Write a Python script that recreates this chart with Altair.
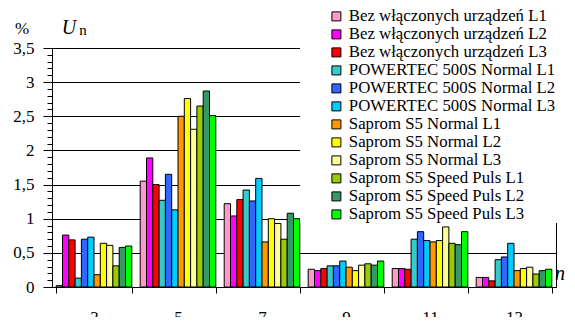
import altair as alt
import pandas as pd

harmonics = ["3", "5", "7", "9", "11", "13"]

series_names = [
    "Bez włączonych urządzeń L1",
    "Bez włączonych urządzeń L2",
    "Bez włączonych urządzeń L3",
    "POWERTEC 500S Normal L1",
    "POWERTEC 500S Normal L2",
    "POWERTEC 500S Normal L3",
    "Saprom S5 Normal L1",
    "Saprom S5 Normal L2",
    "Saprom S5 Normal L3",
    "Saprom S5 Speed Puls L1",
    "Saprom S5 Speed Puls L2",
    "Saprom S5 Speed Puls L3",
]

series_colors = [
    "#FF99CC", "#FF00FF", "#FF0000",
    "#33CCCC", "#3366FF", "#00CCFF",
    "#FF9900", "#FFFF00", "#FFFF99",
    "#99CC00", "#339966", "#00FF00",
]

bez_l1 = [0.02, 1.55, 1.22, 0.26, 0.27, 0.14]
bez_l2 = [0.76, 1.89, 1.04, 0.24, 0.27, 0.14]
bez_l3 = [0.69, 1.50, 1.28, 0.27, 0.26, 0.09]
pow_l1 = [0.13, 1.27, 1.42, 0.31, 0.70, 0.40]
pow_l2 = [0.70, 1.65, 1.26, 0.31, 0.81, 0.44]
pow_l3 = [0.73, 1.13, 1.59, 0.38, 0.68, 0.64]
sn_l1 = [0.18, 2.50, 0.66, 0.29, 0.66, 0.24]
sn_l2 = [0.64, 2.76, 1.00, 0.24, 0.68, 0.27]
sn_l3 = [0.61, 2.31, 0.93, 0.32, 0.88, 0.29]
sp_l1 = [0.31, 2.65, 0.70, 0.34, 0.64, 0.19]
sp_l2 = [0.58, 2.87, 1.08, 0.32, 0.62, 0.24]
sp_l3 = [0.60, 2.51, 1.00, 0.38, 0.81, 0.26]

series_values = [bez_l1, bez_l2, bez_l3, pow_l1, pow_l2, pow_l3,
                 sn_l1, sn_l2, sn_l3, sp_l1, sp_l2, sp_l3]

y_ticks = [round(i * 0.1, 1) for i in range(36)]

rows = []
for name, vals in zip(series_names, series_values):
    for h, v in zip(harmonics, vals):
        rows.append({"n": h, "series": name, "value": v})
df = pd.DataFrame(rows)

FONT = "'Liberation Serif', 'Times New Roman', 'DejaVu Serif', serif"
major = "round(datum.value * 10) % 5 == 0"

bars = alt.Chart(df).mark_bar(stroke="black", strokeWidth=1).encode(
    x=alt.X(
        "n:N", sort=harmonics,
        scale=alt.Scale(paddingInner=0.1, paddingOuter=0.05),
        axis=alt.Axis(title=None, labelAngle=0, tickBand="extent", tickSize=6,
                      tickColor="black", domainColor="black", labelFont=FONT,
                      labelFontSize=17, labelColor="black", labelPadding=16,
                      labelBaseline="top", grid=False),
    ),
    xOffset=alt.XOffset("series:N", sort=series_names,
                        scale=alt.Scale(paddingInner=0, paddingOuter=0)),
    y=alt.Y(
        "value:Q",
        scale=alt.Scale(domain=[0, 3.5], nice=False, zero=True),
        axis=alt.Axis(
            title=None, values=y_ticks,
            labelExpr=f"{major} ? replace(format(datum.value, '~g'), '.', ',') : ''",
            tickSize={"condition": {"test": major, "value": 9}, "value": 5},
            gridOpacity={"condition": {"test": major, "value": 1}, "value": 0},
            gridColor="black", gridWidth=1, tickColor="black", domainColor="black",
            labelFont=FONT, labelFontSize=17, labelColor="black", labelPadding=9,
            labelOverlap=False,
        ),
    ),
    color=alt.Color(
        "series:N", sort=series_names,
        scale=alt.Scale(domain=series_names, range=series_colors),
        legend=alt.Legend(
            title=None, orient="none", legendX=276, legendY=-40,
            symbolType="square", symbolSize=81, symbolStrokeColor="black",
            symbolStrokeWidth=1, symbolOpacity=1, labelFont=FONT,
            labelFontSize=16.8, labelColor="black", labelLimit=0, rowPadding=0,
            labelOffset=4, padding=0,
        ),
    ),
)

cover = alt.Chart(pd.DataFrame({"k": [0]})).mark_rect(fill="white").encode(
    x=alt.value(248), x2=alt.value(520), y=alt.value(-6), y2=alt.value(175)
)

pct = alt.Chart(pd.DataFrame({"t": ["%"]})).mark_text(
    font=FONT, fontSize=17, color="black"
).encode(x=alt.value(-30), y=alt.value(-19), text="t:N")

u_lbl = alt.Chart(pd.DataFrame({"t": ["U"]})).mark_text(
    font=FONT, fontSize=20, fontStyle="italic", color="black"
).encode(x=alt.value(17), y=alt.value(-20), text="t:N")

un_lbl = alt.Chart(pd.DataFrame({"t": ["n"]})).mark_text(
    font=FONT, fontSize=15, color="black"
).encode(x=alt.value(31), y=alt.value(-18), text="t:N")

n_lbl = alt.Chart(pd.DataFrame({"t": ["n"]})).mark_text(
    font=FONT, fontSize=20, fontStyle="italic", color="black"
).encode(x=alt.value(508), y=alt.value(226), text="t:N")

chart = alt.layer(bars, cover, pct, u_lbl, un_lbl, n_lbl).properties(
    width=504, height=239,
    autosize=alt.AutoSizeParams(type="none"),
    padding={"left": 44, "top": 40, "right": 11, "bottom": 30},
).configure_view(stroke="black", strokeWidth=1)

chart.save("out.html", embed_options={"renderer": "svg", "actions": False})
